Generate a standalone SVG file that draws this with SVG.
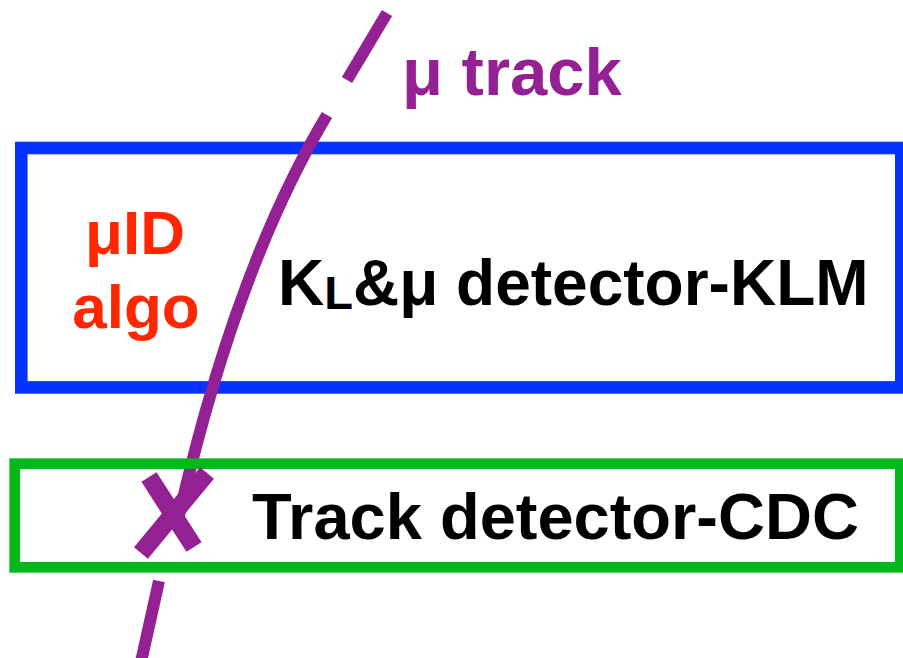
<svg xmlns="http://www.w3.org/2000/svg" width="903" height="658" viewBox="0 0 903 658">
  <style>
    .lbl { font-family: "Liberation Sans", Arial, Helvetica, sans-serif; font-weight: bold; }
    .trk { fill: none; stroke: #942193; stroke-width: 12; stroke-linecap: butt; }
    .xarm { stroke: #942193; stroke-width: 18; stroke-linecap: butt; }
  </style>
  <rect width="903" height="658" fill="#ffffff"/>

  <g id="klm">
    <rect x="21.3" y="148" width="880" height="239.4" fill="none" stroke="#0433FF" stroke-width="12.6"/>
    <text class="lbl" x="278" y="305" font-size="64" fill="#000000">K<tspan font-size="47" dy="4">L</tspan><tspan dy="-4">&amp;μ detector-KLM</tspan></text>
  </g>

  <g id="muid">
    <text class="lbl" x="135" y="254" font-size="62" fill="#FF2600" text-anchor="middle">μID</text>
    <text class="lbl" x="136" y="328" font-size="62" fill="#FF2600" text-anchor="middle">algo</text>
  </g>

  <g id="connectors">
    <g id="track">
      <line class="trk" x1="387" y1="13" x2="347" y2="80"/>
      <path class="trk" d="M327,115 Q236,266 178,520"/>
      <line class="trk" x1="159" y1="581" x2="141" y2="662"/>
    </g>
  </g>

  <g id="track-label">
    <text class="lbl" x="402" y="95" font-size="67" fill="#942193">μ track</text>
  </g>

  <g id="cdc">
    <rect x="14.7" y="463.7" width="885.6" height="103.6" fill="none" stroke="#02B81A" stroke-width="10.7"/>
    <text class="lbl" x="252" y="539" font-size="65" fill="#000000">Track detector-CDC</text>
  </g>

  <g id="cross">
    <line class="xarm" x1="149" y1="477" x2="194" y2="547"/>
    <line class="xarm" x1="207" y1="473" x2="141" y2="553"/>
  </g>
</svg>
